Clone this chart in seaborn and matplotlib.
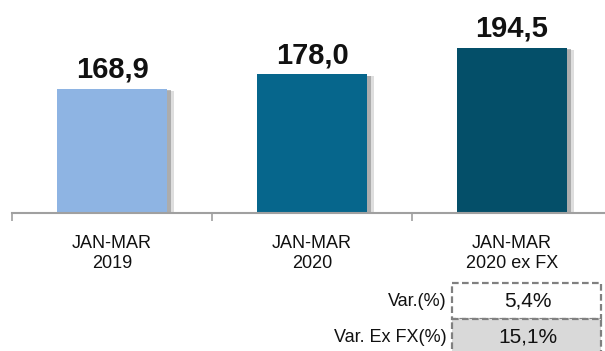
import matplotlib
matplotlib.use("Agg")
import matplotlib.pyplot as plt
import matplotlib.patheffects as pe
from matplotlib.patches import Rectangle
import seaborn as sns
import pandas as pd

# Data
categories = ["JAN-MAR\n2019", "JAN-MAR\n2020", "JAN-MAR\n2020 ex FX"]
values = [168.9, 178.0, 194.5]
bar_colors = ["#8EB4E3", "#06668C", "#044F69"]
var_labels = ["Var.(%)", "Var. Ex FX(%)"]
var_values = ["5,4%", "15,1%"]

sns.set_theme(style="white")
plt.rcParams["font.family"] = ["Liberation Sans", "DejaVu Sans"]

W, H = 605, 351
fig = plt.figure(figsize=(W / 100, H / 100), dpi=100)

# Main bar axes: baseline at y=213 px, category slots of 200 px starting at x=12
ax = fig.add_axes([12 / W, (H - 213) / H, 600 / W, 213 / H])
df = pd.DataFrame({"cat": categories, "val": values})
sns.barplot(data=df, x="cat", y="val", hue="cat", palette=bar_colors,
            legend=False, width=0.55, saturation=1, linewidth=0, ax=ax)

# soft drop shadow on the right/bottom of each bar
for patch in ax.patches:
    patch.set_path_effects([
        pe.SimplePatchShadow(offset=(5, -1.5), shadow_rgbFace="#c8c8c8", alpha=0.6),
        pe.SimplePatchShadow(offset=(3, -1), shadow_rgbFace="#8c8c8c", alpha=0.6),
        pe.Normal(),
    ])

ax.set_xlim(-0.5, 2.5)
ax.set_ylim(91.2, 91.2 + 213 / 1.6)

for i, v in enumerate(values):
    ax.annotate(f"{v:.1f}".replace(".", ","), xy=(i, v), xytext=(0, 8),
                textcoords="offset points", ha="center", va="baseline",
                fontsize=21, fontweight="bold", color="#111111")

ax.set_xlabel("")
ax.set_ylabel("")
ax.set_yticks([])
for side in ["left", "right", "top"]:
    ax.spines[side].set_visible(False)
ax.spines["bottom"].set_color("#a0a0a0")
ax.spines["bottom"].set_linewidth(1.5)
ax.set_xticks([-0.5, 0.5, 1.5, 2.5], minor=True)
ax.tick_params(axis="x", which="minor", length=5.5, width=1.2, color="#a0a0a0",
               direction="out", bottom=True)
ax.tick_params(axis="x", which="major", length=0, pad=16, labelsize=13,
               labelcolor="#111111")
for lbl in ax.get_xticklabels():
    lbl.set_linespacing(1.2)

# Variation table below the chart
ov = fig.add_axes([0, 0, 1, 1])
ov.set_xlim(0, W)
ov.set_ylim(H, 0)
ov.axis("off")

row_tops = [283, 319]
row_h = 36
fills = ["white", "#D9D9D9"]
for k, (lab, val) in enumerate(zip(var_labels, var_values)):
    top = row_tops[k]
    ov.add_patch(Rectangle((452, top), 149, row_h, facecolor=fills[k],
                           edgecolor="#808080", linewidth=1.6,
                           linestyle=(0, (3, 1.5)), zorder=1 + k))
    ov.text(447, top + row_h / 2, lab, ha="right", va="center", fontsize=13,
            color="#111111")
    ov.text(528, top + row_h / 2, val, ha="center", va="center", fontsize=15,
            color="#111111")

fig.savefig("out.png", dpi=100)
